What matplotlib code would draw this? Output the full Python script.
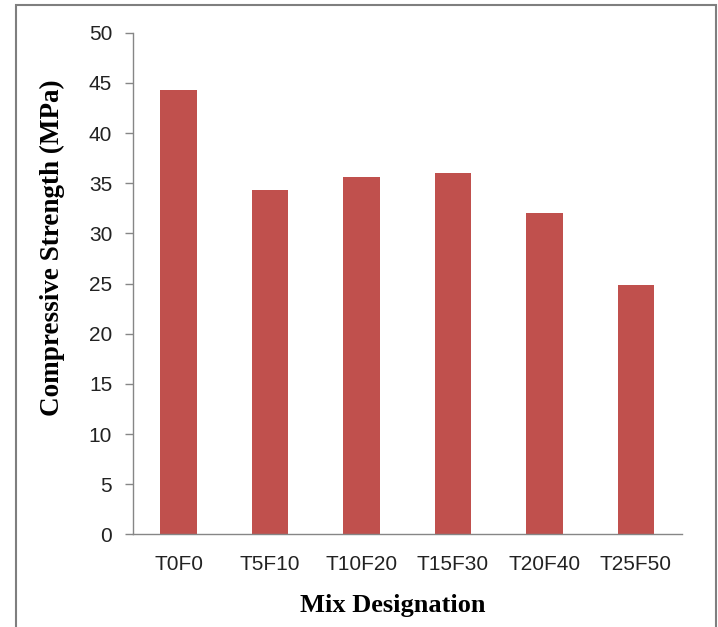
import numpy as np
import matplotlib.pyplot as plt
from matplotlib.patches import Rectangle

# data
mixes = ["T0F0", "T5F10", "T10F20", "T15F30", "T20F40", "T25F50"]
strength = [44.3, 34.3, 35.6, 36.0, 32.0, 24.9]
y_ticks = [0, 5, 10, 15, 20, 25, 30, 35, 40, 45, 50]

bar_color = "#C0504D"
axis_color = "#868686"

fig = plt.figure(figsize=(7.18, 6.27), dpi=100)
ax = fig.add_axes([0.1852, 0.1478, 0.7642, 0.8000])

x = np.arange(len(mixes))
ax.bar(x, strength, width=0.4, color=bar_color, edgecolor="none")

ax.set_xlim(-0.5, len(mixes) - 0.5)
ax.set_ylim(0, 50)
ax.set_yticks(y_ticks)
ax.set_xticks(x)
ax.set_xticklabels(mixes)

for s in ["top", "right"]:
    ax.spines[s].set_visible(False)
for s in ["left", "bottom"]:
    ax.spines[s].set_color(axis_color)
    ax.spines[s].set_linewidth(1.0)

for lab in ax.get_xticklabels() + ax.get_yticklabels():
    lab.set_fontfamily("Liberation Sans")
    lab.set_fontsize(15)
    lab.set_color("#222222")
ax.tick_params(axis="y", length=6, width=1.0, color=axis_color, pad=9)
ax.tick_params(axis="x", length=0, pad=15)

# axis titles placed as in the reference (y title sits above the axis centre)
fig.text(0.0735, 0.6053, "Compressive Strength (MPa)", rotation=90,
         ha="center", va="center", family="Liberation Serif",
         fontweight="bold", fontsize=19.5, color="black")
fig.text(0.5474, 0.035, "Mix Designation", ha="center", va="center",
         family="Liberation Serif", fontweight="bold", fontsize=19, color="black")

# chart frame, cut off at the bottom of the image
fig.patches.append(Rectangle((16 / 718, -0.05), 700 / 718, 1.05 - 5 / 627,
                             transform=fig.transFigure, fill=False,
                             edgecolor="#7f7f7f", linewidth=1.5))

fig.savefig("out.png", dpi=100)
